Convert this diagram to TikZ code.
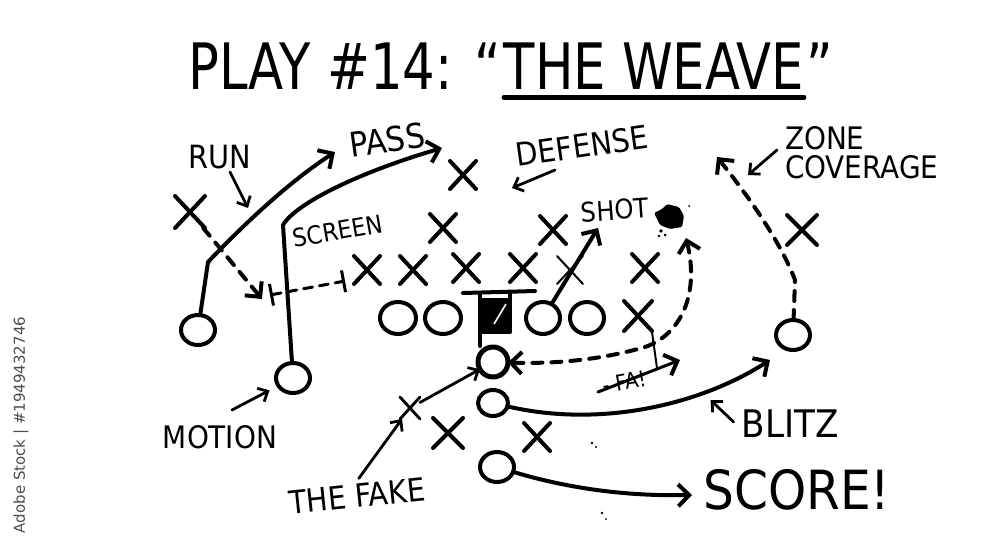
\documentclass[tikz,border=0pt]{standalone}
\usepackage{fontspec}
\setmainfont{DejaVu Sans Condensed}
\newfontfamily\titlefont[FakeStretch=0.89]{DejaVu Sans Condensed}
\newfontfamily\stockfont{DejaVu Sans}
\usetikzlibrary{arrows.meta,shapes.misc,shapes.geometric}
\newcommand{\handsize}[1]{\fontsize{#1}{#1}\selectfont}

\begin{document}
\begin{tikzpicture}[x=1pt, y=-1pt, every node/.style={inner sep=0pt, outer sep=0pt, font=\handsize{32}},
  ink/.style={line width=4pt, line cap=round, line join=round},
  oman/.style={ellipse, draw, ink, minimum width=34pt, minimum height=30pt},
  xman/.style={cross out, draw, ink, minimum width=26pt, minimum height=28pt},
  route/.style={ink, -{Straight Barb[length=11pt,width=22pt,line width=4pt]}},
  dashroute/.style={route, dash pattern=on 10pt off 9pt},
  note/.style={ink, line width=2.8pt, -{Straight Barb[length=8pt,width=15pt,line width=2.8pt]}},
  title/.style={font=\titlefont\handsize{64}}]
\fill[white] (0,0) rectangle (1000,558);
\useasboundingbox (0,0) rectangle (1000,558);
% title
\node[title] (weave) at (654,66) {THE WEAVE};
\node[title, anchor=east] (play) at ([xshift=-3pt]weave.west) {PLAY \#14: “};
\node[title, anchor=west] (endq) at ([xshift=2pt]weave.east) {”};
\draw[ink, line width=4.5pt] ([yshift=-8pt]weave.south west) -- ([yshift=-8pt]weave.south east);
% offense
\node[oman] (o1) at (198,330) {};
\node[oman] (o2) at (293,378) {};
\node[oman, minimum width=36pt, minimum height=32pt] (o3) at (398,318) {};
\node[oman, minimum width=36pt, minimum height=32pt] (o4) at (443,318) {};
\node[oman, minimum width=34pt, minimum height=32pt] (o5) at (543,318) {};
\node[oman, minimum width=34pt, minimum height=32pt] (o6) at (587,318) {};
\node[oman, line width=5pt, minimum width=30pt, minimum height=30pt] (qb) at (493,362) {};
\node[oman, minimum width=30pt, minimum height=26pt] (o8) at (493,403) {};
\node[oman] (o9) at (497,467) {};
\node[oman] (o10) at (793,335) {};
\node[draw, fill, ink, minimum width=30pt, minimum height=32pt] (ctr) at (495,316) {};
\draw[ink] (463,293) -- (535,291); \draw[ink] (480,293) -- (480,346); \draw[ink] (510,292) -- (510,300);
\draw[white, line width=1.6pt] (494,324) -- (506,304);
% defense
\node[xman, minimum width=30pt, minimum height=32pt] (x1) at (190,212) {};
\node[xman] (x2) at (463,175) {};
\node[xman] (x3) at (443,228) {};
\node[xman] (x4) at (553,230) {};
\node[xman, minimum width=30pt, minimum height=30pt] (x5) at (802,230) {};
\node[xman] (l1) at (367,270) {};
\node[xman] (l2) at (413,270) {};
\node[xman] (l3) at (466,268) {};
\node[xman] (l4) at (523,268) {};
\node[xman, line width=2pt] (l5) at (570,270) {};
\node[xman] (l6) at (645,268) {};
\node[xman, minimum width=28pt, minimum height=30pt] (x6) at (638,316) {};
\node[xman, line width=2.8pt, minimum width=20pt, minimum height=22pt] (x7) at (410,408) {};
\node[xman, minimum width=30pt, minimum height=30pt] (x8) at (448,433) {};
\node[xman] (x9) at (537,437) {};
% labels
\node (run) at (220,157) {RUN};
\node[font=\handsize{34}, rotate=8] (pass) at (387,140) {PASS};
\node[rotate=8] (defense) at (582,146) {DEFENSE};
\node[font=\handsize{31}, align=left, anchor=north west] (zone) at (785,126) {ZONE\\[-2pt]COVERAGE};
\node[font=\handsize{25}, rotate=10] (screen) at (338,231) {SCREEN};
\node[font=\handsize{27}, rotate=4] (shot) at (615,210) {SHOT};
\node[font=\handsize{31}] (motion) at (220,437) {MOTION};
\node[font=\handsize{32}, rotate=6] (fake) at (357,496) {THE FAKE};
\node[font=\handsize{38}] (blitz) at (790,424) {BLITZ};
\node[font=\handsize{54}] (score) at (797,490) {SCORE!};
\node[font=\handsize{22}, rotate=10] (fa) at (624,382) {- FA!};
% routes
\coordinate (runbend) at (208,262); \coordinate (runend) at (335,152);
\draw[route] (o1) -- (runbend) .. controls (250,218) and (292,180) .. (runend);
\coordinate (passbend) at (283,225); \coordinate (passend) at (442,148);
\draw[route] (o2) -- (passbend) .. controls (296,203) and (360,172) .. (passend);
\coordinate (dashend) at (262,299);
\draw[dashroute] (x1) -- (dashend);
\coordinate (scrA) at (270,295); \coordinate (scrB) at (345,281);
\draw[ink, line width=3pt, dash pattern=on 9pt off 7pt, {Bar[width=22pt]}-{Bar[width=22pt]}] (scrA) -- (scrB);
\coordinate (shotend) at (598,228);
\draw[route] (o5) -- (shotend);
\coordinate (dtop) at (686,238);
\draw[dashroute, {Straight Barb[length=11pt,width=22pt,line width=4pt]}-{Straight Barb[length=11pt,width=22pt,line width=4pt]}] (dtop) .. controls (700,295) and (680,335) .. (645,347) .. controls (600,360) and (555,364) .. (qb);
\draw[ink, line width=2pt] (652,332) -- (657,368);
\coordinate (fastart) at (598,392); \coordinate (faend) at (680,360);
\draw[route, line width=3pt] (fastart) -- (faend);
\draw[note] ([xshift=3pt, yshift=6pt]fake.north) -- (x7);
\draw[note] (x7) -- (qb);
\draw[note, shorten >=10pt] (motion) ++(12,-27) -- (o2);
\coordinate (blitzend) at (770,360);
\draw[route] (o8) .. controls (600,428) and (700,405) .. (blitzend);
\draw[note] (blitz.west) ++(-8,-2) -- ++(-23,-22);
\coordinate (scoreend) at (692,495);
\draw[route] (o9) .. controls (580,492) and (640,496) .. (scoreend);
\coordinate (zonebend) at (795,280); \coordinate (zoneend) at (717,157);
\draw[dashroute] (o10) -- (zonebend) .. controls (780,240) and (745,192) .. (zoneend);
\draw[note] (zone.north west) ++(-8,24) -- ++(-29,25);
\draw[note] (defense) ++(-27,24) -- ++(-43,18);
\draw[note] (run) ++(10,15) -- ++(18,36);
% ink blot and specks
\fill[rounded corners=1.5pt] (654,213) -- (662,209) -- (667,204) -- (679,207) -- (684,216) -- (682,227) -- (670,229) -- (660,225) -- cycle;
\fill (661,231) circle (1.8pt) (665,235) circle (1.5pt) (659,236) circle (1.3pt) (689,206) circle (1pt);
\fill (592,443) circle (1.4pt) (596,447) circle (1.1pt) (602,513) circle (1.3pt) (606,519) circle (1pt);
% stock mark
\node[font=\stockfont\handsize{15}, text=black!70, rotate=90] (stock) at (21,425) {Adobe Stock | \#1949432746};
\end{tikzpicture}
\end{document}
